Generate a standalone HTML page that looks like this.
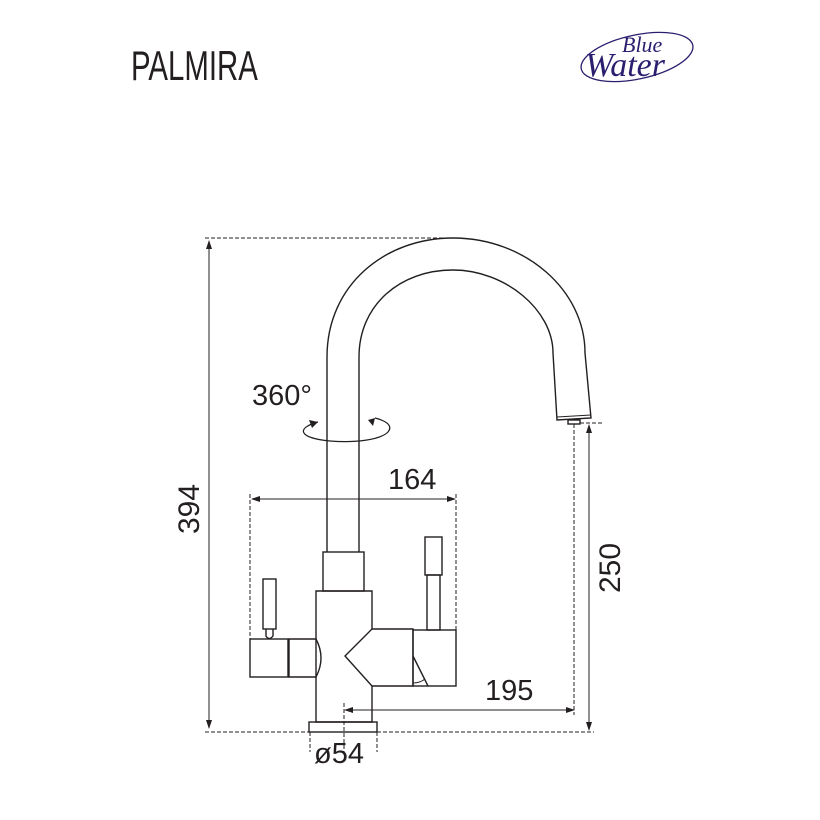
<!DOCTYPE html>
<html><head><meta charset="utf-8"><style>
html,body{margin:0;padding:0;background:#fff;}
svg{display:block;}
text{font-family:"Liberation Sans","DejaVu Sans",sans-serif;fill:#231f20;}
</style></head><body>
<svg width="820" height="820" viewBox="0 0 820 820" xmlns="http://www.w3.org/2000/svg">
<defs>
<marker id="ar" markerWidth="10" markerHeight="8" refX="9" refY="4" orient="auto" markerUnits="userSpaceOnUse">
<path d="M1,1 L10,4 L1,7 Z" fill="#231f20"/></marker>
</defs>
<text x="131" y="80" font-size="42" transform="translate(131,0) scale(0.7,1) translate(-131,0)">PALMIRA</text>
<g fill="none" stroke="#2a1f6e">
<ellipse cx="637" cy="57" rx="57" ry="22" transform="rotate(-12 637 57)" stroke-width="1.3"/>
</g>
<text x="622" y="52" font-size="22" font-style="italic" style="font-family:'Liberation Serif',serif;fill:#2a1f6e">Blue</text>
<text x="585" y="76" font-size="34" font-style="italic" style="font-family:'Liberation Serif',serif;fill:#2a1f6e">Water</text>

<g fill="none" stroke="#231f20" stroke-width="1.4">
<path d="M327,552 L327,357 C327,285 385,238 453,238 C525,238 585,290 585,353 L591,418 L557,420 L553,353 C553,310 505,270 453,270 C400,270 359,305 359,357 L359,552"/>
<line x1="557" y1="417" x2="591" y2="415" stroke-width="1"/>
<rect x="568" y="420" width="12" height="4"/>
<rect x="323" y="552" width="41" height="39"/>
<path d="M316,591 L372,591 L372,629 L345,656 L372,686 L372,722 L316,722 Z"/>
<rect x="309" y="722" width="68" height="10"/>
<rect x="250" y="639" width="38" height="38"/>
<path d="M289,639 L316,639 Q326,658 316,677 L289,677 Z"/>
<rect x="263" y="579" width="13" height="50"/>
<path d="M266,629 L266,636 Q269,641 273,636 L273,629"/>
<path d="M372,629 L413,629 L413,686 L372,686"/>
<rect x="413" y="630" width="43" height="56"/>
<path d="M413,656 L428,686"/>
<path d="M413,683 Q420,683 425,679" stroke-width="1"/>
<rect x="427" y="575" width="13" height="55"/>
<rect x="425" y="537" width="17" height="38"/>
<path d="M318,422 C296,428 298,438 330,441 C355,443 380,440 388,432 C393,426 387,421 375,418" stroke-width="1.2"/>
</g>
<path d="M318,422 L309,420 L312,428 Z" fill="#231f20"/>
<path d="M375,418 L368,420 L373,426 Z" fill="#231f20"/>

<g stroke="#231f20" stroke-width="1" fill="none">
<line x1="209" y1="728" x2="209" y2="241" marker-end="url(#ar)"/>
<line x1="209" y1="241" x2="209" y2="728" marker-end="url(#ar)"/>
<line x1="589" y1="727" x2="589" y2="425" marker-end="url(#ar)"/>
<line x1="589" y1="425" x2="589" y2="730" marker-end="url(#ar)"/>
<line x1="252" y1="499" x2="455" y2="499" marker-end="url(#ar)"/>
<line x1="455" y1="499" x2="252" y2="499" marker-end="url(#ar)"/>
<line x1="574" y1="710" x2="345" y2="710" marker-end="url(#ar)"/>
<line x1="345" y1="710" x2="574" y2="710" marker-end="url(#ar)"/>
</g>
<g stroke="#231f20" stroke-width="1" fill="none" stroke-dasharray="4,2">
<line x1="205" y1="238" x2="453" y2="238"/>
<line x1="205" y1="732" x2="309" y2="732"/>
<line x1="377" y1="732" x2="594" y2="732"/>
<line x1="580" y1="423" x2="602" y2="423"/>
<line x1="574" y1="424" x2="574" y2="715"/>
<line x1="250" y1="494" x2="250" y2="639"/>
<line x1="456" y1="494" x2="456" y2="630"/>
<line x1="344" y1="703" x2="344" y2="752"/>
<line x1="310" y1="732" x2="310" y2="752"/>
<line x1="377" y1="732" x2="377" y2="752"/>
</g>

<text x="252" y="405" font-size="29">360°</text>
<text x="388" y="489" font-size="29">164</text>
<text x="485" y="700" font-size="29">195</text>
<text x="314" y="763" font-size="29">ø54</text>
<text x="0" y="0" font-size="30" transform="translate(199,534) rotate(-90)">394</text>
<text x="0" y="0" font-size="30" transform="translate(620,593) rotate(-90)">250</text>
</svg>
</body></html>
